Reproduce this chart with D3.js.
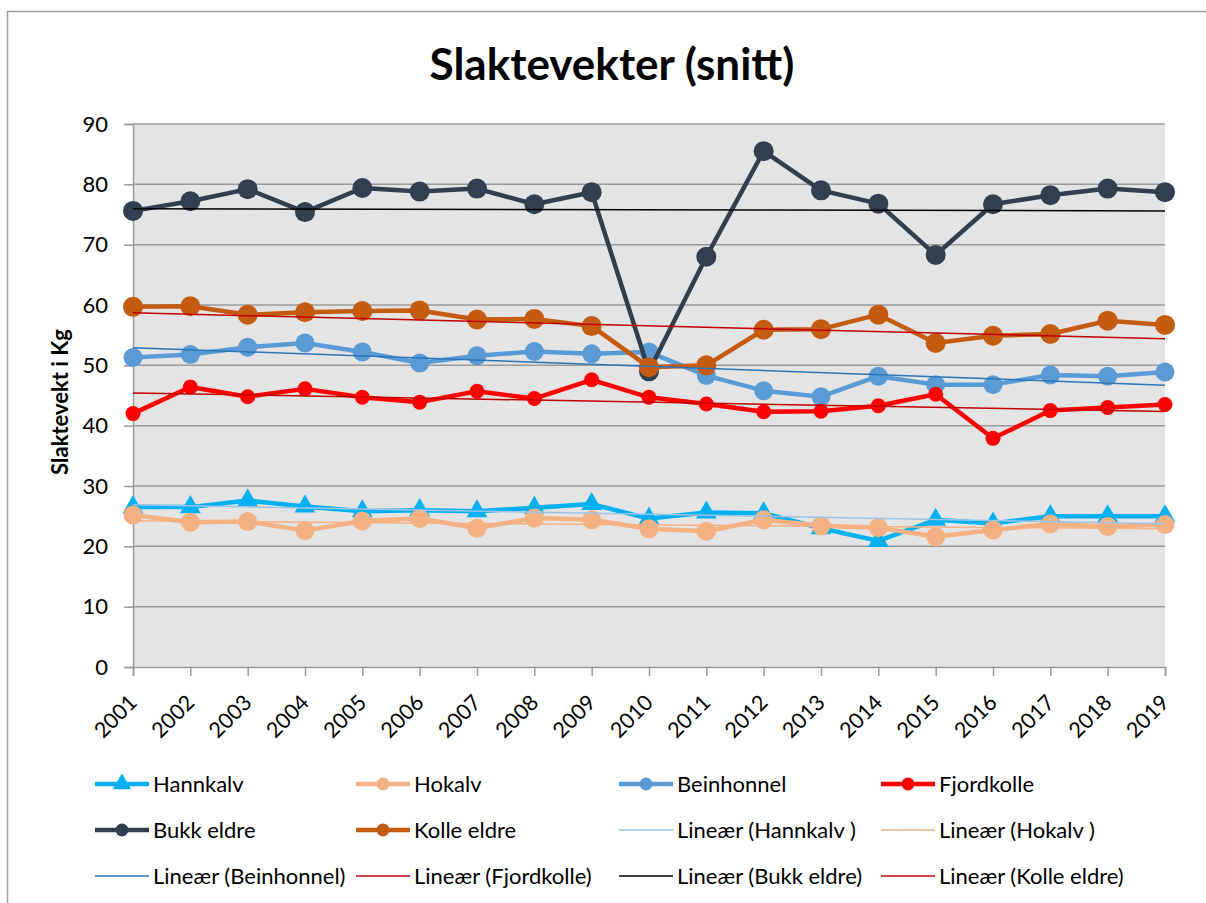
<!DOCTYPE html>
<html>
<head>
<meta charset="utf-8">
<script src="https://cdn.jsdelivr.net/npm/d3@7"></script>
<style>
  html, body { margin: 0; padding: 0; background: #fff; }
  svg { display: block; font-family: Lato, "Open Sans", sans-serif; }
</style>
</head>
<body>
<svg id="chart" width="1206" height="903"></svg>
<script>
// ---- data ----
const years = ["2001","2002","2003","2004","2005","2006","2007","2008","2009","2010",
               "2011","2012","2013","2014","2015","2016","2017","2018","2019"];
const hannkalv   = [26.5,26.5,27.6,26.6,25.8,26.0,25.8,26.4,27.0,24.6,25.6,25.5,23.0,20.9,24.4,23.8,25.0,25.0,25.0];
const hokalv     = [25.2,24.0,24.1,22.6,24.2,24.6,23.0,24.7,24.4,22.9,22.5,24.4,23.4,23.1,21.6,22.7,23.7,23.3,23.6];
const beinhonnel = [51.3,51.8,53.0,53.7,52.2,50.4,51.6,52.3,51.9,52.2,48.3,45.8,44.8,48.2,46.8,46.8,48.4,48.2,48.9];
const fjordkolle = [42.0,46.4,44.8,46.1,44.7,43.9,45.7,44.5,47.6,44.7,43.6,42.3,42.4,43.3,45.2,37.9,42.5,43.0,43.5];
const bukkEldre  = [75.6,77.2,79.2,75.4,79.4,78.8,79.3,76.7,78.7,49.0,68.0,85.5,79.0,76.8,68.3,76.7,78.2,79.3,78.7];
const kolleEldre = [59.7,59.8,58.4,58.8,59.0,59.1,57.6,57.7,56.5,49.7,50.0,55.9,56.0,58.4,53.7,54.9,55.2,57.4,56.7];
const yTicks = [0,10,20,30,40,50,60,70,80,90];
const seriesNames = ["Hannkalv","Hokalv","Beinhonnel","Fjordkolle","Bukk eldre","Kolle eldre"];
const trendNames = ["Lineær (Hannkalv )","Lineær (Hokalv )","Lineær (Beinhonnel)","Lineær (Fjordkolle)","Lineær (Bukk eldre)","Lineær (Kolle eldre)"];
const titleText = "Slaktevekter (snitt)";
const yTitle = "Slaktevekt i Kg";

// ---- styling ----
const series = [
  {name: seriesNames[0], values: hannkalv,   color: "#00B0F0", marker: "triangle", r: 8.5, trend: "#9DC3E6"},
  {name: seriesNames[1], values: hokalv,     color: "#F4B183", marker: "circle",   r: 9.5, trend: "#F4B183"},
  {name: seriesNames[2], values: beinhonnel, color: "#5B9BD5", marker: "circle",   r: 9.5, trend: "#2E75B6"},
  {name: seriesNames[3], values: fjordkolle, color: "#FF0000", marker: "circle",   r: 7.5, trend: "#C00000"},
  {name: seriesNames[4], values: bukkEldre,  color: "#323F4F", marker: "circle",   r: 10,  trend: "#000000"},
  {name: seriesNames[5], values: kolleEldre, color: "#C55A11", marker: "circle",   r: 10,  trend: "#C00000"}
];

const svg = d3.select("#chart");
const pLeft = 133, pRight = 1165, pTop = 124, pBottom = 667;

// outer border (only top and left visible in the crop)
svg.append("path")
  .attr("d", `M7.5,903 L7.5,11.5 L1206,11.5`)
  .attr("fill", "none").attr("stroke", "#A0A0A0").attr("stroke-width", 1.5);

const x = d3.scalePoint().domain(years).range([pLeft, pRight]).padding(0);
const y = d3.scaleLinear().domain([0, 90]).range([pBottom, pTop]);

// plot background
svg.append("rect").attr("x", pLeft).attr("y", pTop)
  .attr("width", pRight - pLeft).attr("height", pBottom - pTop).attr("fill", "#E4E4E4");

// y axis with gridlines
const yAxis = svg.append("g").attr("transform", `translate(${pLeft},0)`)
  .call(d3.axisLeft(y).tickValues(yTicks).tickSize(9).tickPadding(16));
yAxis.select(".domain").attr("stroke", "#9A9A9A").attr("stroke-width", 1.5);
yAxis.selectAll(".tick line").attr("stroke", "#9A9A9A").attr("stroke-width", 1.5);
yAxis.selectAll(".tick text").attr("font-size", 22).attr("fill", "#000")
  .attr("font-family", "Lato, sans-serif");

const grid = svg.append("g");
grid.selectAll("line").data(yTicks.filter(d => d > 0)).join("line")
  .attr("x1", pLeft).attr("x2", pRight)
  .attr("y1", d => y(d)).attr("y2", d => y(d))
  .attr("stroke", "#9A9A9A").attr("stroke-width", 1.5);

// x axis
const xAxis = svg.append("g").attr("transform", `translate(0,${pBottom})`)
  .call(d3.axisBottom(x).tickSize(9));
xAxis.select(".domain").attr("stroke", "#9A9A9A").attr("stroke-width", 1.5);
xAxis.selectAll(".tick line").attr("stroke", "#9A9A9A").attr("stroke-width", 1.5);
xAxis.selectAll(".tick text")
  .attr("font-size", 21.5).attr("fill", "#000").attr("font-family", "Lato, sans-serif")
  .attr("text-anchor", "end")
  .attr("x", 0).attr("y", 0).attr("dy", "0.72em")
  .attr("transform", "translate(-6,26) rotate(-45)");

// series lines and markers
const line = d3.line().x((d, i) => x(years[i])).y(d => y(d));

function drawMarker(g, s, cx, cy) {
  if (s.marker === "triangle") {
    g.append("path").attr("d", d3.symbol().type(d3.symbolTriangle).size(s.r * s.r * 2.6)())
      .attr("transform", `translate(${cx},${cy})`).attr("fill", s.color);
  } else {
    g.append("circle").attr("cx", cx).attr("cy", cy).attr("r", s.r).attr("fill", s.color);
  }
}

series.forEach(s => {
  const g = svg.append("g");
  g.append("path").datum(s.values).attr("d", line)
    .attr("fill", "none").attr("stroke", s.color).attr("stroke-width", 4.5)
    .attr("stroke-linejoin", "round");
  s.values.forEach((v, i) => drawMarker(g, s, x(years[i]), y(v)));
});

// linear trendlines (least squares on each series)
series.forEach(s => {
  const n = s.values.length;
  const xs = d3.range(n);
  const mx = d3.mean(xs), my = d3.mean(s.values);
  const b = d3.sum(xs, (xi, i) => (xi - mx) * (s.values[i] - my)) / d3.sum(xs, xi => (xi - mx) ** 2);
  const a = my - b * mx;
  svg.append("line")
    .attr("x1", x(years[0])).attr("y1", y(a))
    .attr("x2", x(years[n - 1])).attr("y2", y(a + b * (n - 1)))
    .attr("stroke", s.trend).attr("stroke-width", 1.5);
});

// title
svg.append("text").attr("x", 612).attr("y", 80).attr("text-anchor", "middle")
  .attr("font-size", 44).attr("font-weight", "bold").text(titleText);

// y title
svg.append("text").attr("transform", "translate(68,402) rotate(-90)")
  .attr("text-anchor", "middle").attr("font-size", 22).attr("font-weight", "bold").text(yTitle);

// legend
const legendItems = [];
series.forEach(s => legendItems.push({label: s.name, s: s, type: "series"}));
series.forEach((s, i) => legendItems.push({label: trendNames[i], s: s, type: "trend"}));
const colX = [95, 356, 619, 881];
const rowY = [784, 830, 876];
legendItems.forEach((it, k) => {
  const cx = colX[k % 4], cy = rowY[Math.floor(k / 4)];
  const g = svg.append("g");
  if (it.type === "series") {
    g.append("line").attr("x1", cx).attr("x2", cx + 54).attr("y1", cy).attr("y2", cy)
      .attr("stroke", it.s.color).attr("stroke-width", 4.5);
    drawMarker(g, Object.assign({}, it.s, {r: it.s.marker === "triangle" ? 7.5 : 6.5}), cx + 27, cy);
  } else {
    g.append("line").attr("x1", cx).attr("x2", cx + 54).attr("y1", cy).attr("y2", cy)
      .attr("stroke", it.s.trend).attr("stroke-width", 1.5);
  }
  g.append("text").attr("x", cx + 58).attr("y", cy).attr("dy", "0.35em")
    .attr("font-size", 22).text(it.label);
});
</script>
</body>
</html>
